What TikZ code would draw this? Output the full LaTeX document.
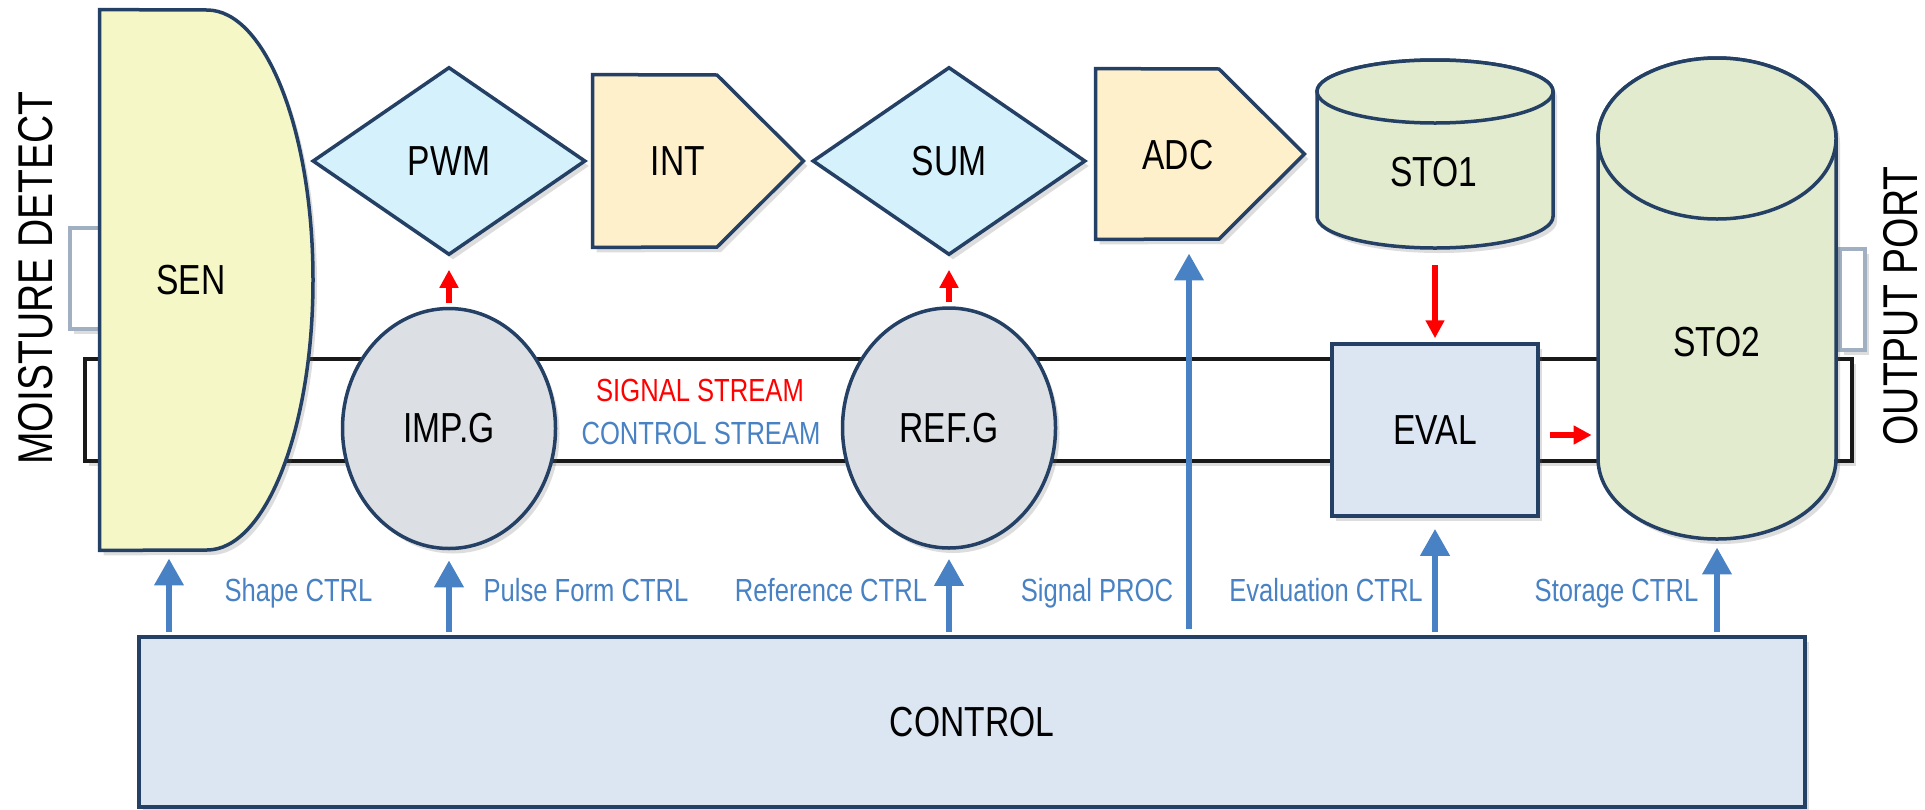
\documentclass[tikz,border=0pt]{standalone}
\usepackage{fontspec}
\setmainfont{Liberation Sans}[FakeStretch=0.8]
\usetikzlibrary{shapes.geometric,arrows.meta,shadows}

\definecolor{edge}{RGB}{36,64,100}
\definecolor{senfill}{RGB}{245,247,199}
\definecolor{dfill}{RGB}{213,241,252}
\definecolor{pfill}{RGB}{255,240,204}
\definecolor{cylfill}{RGB}{226,235,205}
\definecolor{ellfill}{RGB}{220,224,229}
\definecolor{boxfill}{RGB}{219,230,242}
\definecolor{ctrlblue}{RGB}{72,130,196}
\definecolor{portedge}{RGB}{160,176,194}

\newcommand\lblbig{\fontsize{21pt}{25pt}\selectfont}
\newcommand\lblsmall{\fontsize{16pt}{19pt}\selectfont}
\newcommand\lblside{\fontsize{24.4pt}{28pt}\selectfont}

\begin{document}
\begin{tikzpicture}[x=0.5pt,y=-0.5pt,
  outline/.style={draw=edge, line width=1.75pt},
  shadowed/.style={drop shadow={shadow xshift=2pt, shadow yshift=-2.5pt, opacity=0.22, fill=black!60}},
  frame/.style={rectangle, draw=none, inner sep=0pt},
  nodetext/.style={font=\lblbig, text=black, inner sep=0pt},
  ctrlarrow/.style={draw=ctrlblue, line width=3.4pt, -{Triangle[length=13.5pt,width=14pt]}},
  sigarrow/.style={draw=red, line width=2.6pt, -{Triangle[length=9pt,width=9pt]}},
  ctrllabel/.style={font=\lblsmall, text=ctrlblue, anchor=base, inner sep=0pt},
  port/.style={rectangle, draw=portedge, line width=1.6pt, fill=white, inner sep=0pt}
]
% canvas
\fill[white] (0,0) rectangle (1925,809);
\useasboundingbox (0,0) rectangle (1925,809);

% stream band
\node[rectangle, draw=black!90, line width=1.6pt, fill=white, inner sep=0pt,
      minimum width=883.5pt, minimum height=51pt, shadowed] (band) at (968.5,410) {};
\node[font=\lblsmall, text=red] (sigstream) at (700,390) {SIGNAL STREAM};
\node[font=\lblsmall, text=ctrlblue] (ctlstream) at (701,433) {CONTROL STREAM};

% side ports
\node[port, shadowed, minimum width=15pt, minimum height=50.5pt] (inport) at (85,278.5) {};
\node[port, shadowed, minimum width=12.5pt, minimum height=50.5pt] (outportbox) at (1852.5,299.5) {};

% sensor
\node[frame, minimum width=106.5pt, minimum height=270pt] (sen) at (206.5,280) {};
\path[outline, fill=senfill, shadowed] (sen.north west) -- (207,10)
  .. controls (265.5,10) and (313,131) .. (313,280)
  .. controls (313,429) and (265.5,550) .. (207,550) -- (sen.south west) -- cycle;
\node[nodetext] (sentext) at (191,280) {SEN};

% diamonds
\node[diamond, outline, fill=dfill, shadowed, inner sep=0pt,
      minimum width=136.5pt, minimum height=94pt, font=\lblbig] (pwm) at (449,161) {PWM};
\node[diamond, outline, fill=dfill, shadowed, inner sep=0pt,
      minimum width=136.5pt, minimum height=94pt, font=\lblbig] (sum) at (949,161) {SUM};

% integrator
\node[frame, minimum width=105pt, minimum height=86pt] (int) at (698,161) {};
\path[outline, fill=pfill, shadowed] (int.north west) -- (717,75) -- (int.east)
  -- (717,247) -- (int.south west) -- cycle;
\node[nodetext] (inttext) at (678,161) {INT};

% converter
\node[frame, minimum width=104pt, minimum height=85pt] (adc) at (1200,154) {};
\path[outline, fill=pfill, shadowed] (adc.north west) -- (1219,69) -- (adc.east)
  -- (1219,239) -- (adc.south west) -- cycle;
\node[nodetext] (adctext) at (1178,155) {ADC};

% storage 1
\node[frame, minimum width=118pt, minimum height=94pt] (sto1) at (1435,154) {};
\path[outline, fill=cylfill, shadowed] (1317,91.5) -- (1317,216.5)
  arc[start angle=180, end angle=360, x radius=59pt, y radius=15.75pt]
  -- (1553,91.5)
  arc[start angle=0, end angle=180, x radius=59pt, y radius=15.75pt] -- cycle;
\path[outline, fill=cylfill] (1435,91.5) ellipse[x radius=59pt, y radius=15.75pt];
\node[nodetext] (sto1text) at (1434,172) {STO1};

% storage 2
\node[frame, minimum width=119pt, minimum height=240.5pt] (sto2) at (1717,298.5) {};
\path[outline, fill=cylfill, shadowed] (1598,138.5) -- (1598,458.5)
  arc[start angle=180, end angle=360, x radius=59.5pt, y radius=40.25pt]
  -- (1836,138.5)
  arc[start angle=0, end angle=180, x radius=59.5pt, y radius=40.25pt] -- cycle;
\path[outline, fill=cylfill] (1717,138.5) ellipse[x radius=59.5pt, y radius=40.25pt];
\node[nodetext] (sto2text) at (1717,342) {STO2};

% generators
\node[ellipse, outline, fill=ellfill, shadowed, inner sep=0pt,
      minimum width=106.5pt, minimum height=120pt, font=\lblbig] (imp) at (449,428.5) {IMP.G};
\node[ellipse, outline, fill=ellfill, shadowed, inner sep=0pt,
      minimum width=106.5pt, minimum height=120pt, font=\lblbig] (ref) at (949,428) {REF.G};

% evaluation
\node[rectangle, outline, fill=boxfill, shadowed, inner sep=0pt,
      minimum width=103pt, minimum height=86pt, font=\lblbig] (eval) at (1435,430) {EVAL};

% control unit
\node[rectangle, outline, fill=boxfill, shadowed, inner sep=0pt,
      minimum width=833pt, minimum height=85pt, font=\lblbig] (ctrl) at (972,722) {CONTROL};

% side captions
\node[font=\lblside, rotate=90] (moist) at (35.5,278) {MOISTURE DETECT};
\node[font=\lblside, rotate=90] (outport) at (1901,306) {OUTPUT PORT};

% signal path
\draw[sigarrow, shorten <=2pt, shorten >=6.5pt] (imp.north) -- (pwm.south);
\draw[sigarrow, shorten <=2pt, shorten >=6.5pt] (ref.north) -- (sum.south);
\draw[sigarrow, shorten <=8.5pt, shorten >=2pt] (sto1.south) -- (eval.north);
\coordinate (evalout) at ([yshift=-2.5pt]eval.east);
\draw[sigarrow, shorten <=5pt, shorten >=3pt] (evalout) -- (evalout -| sto2.west);

% control lines
\coordinate (senin) at ([xshift=-18.75pt]sen.south);
\coordinate (adcin) at ([xshift=-5.5pt]adc.south);
\draw[ctrlarrow, shorten <=1.5pt, shorten >=4pt] (senin |- ctrl.north) -- (senin);
\draw[ctrlarrow, shorten <=1.5pt, shorten >=5pt] (imp.south |- ctrl.north) -- (imp.south);
\draw[ctrlarrow, shorten <=1.5pt, shorten >=4.5pt] (ref.south |- ctrl.north) -- (ref.south);
\draw[ctrlarrow, shorten <=3pt, shorten >=7pt] (adcin |- ctrl.north) -- (adcin);
\draw[ctrlarrow, shorten <=1.5pt, shorten >=5.5pt] (eval.south |- ctrl.north) -- (eval.south);
\draw[ctrlarrow, shorten <=1.5pt, shorten >=4pt] (sto2.south |- ctrl.north) -- (sto2.south);

% control labels
\node[ctrllabel] (lshape) at (298.5,601) {Shape CTRL};
\node[ctrllabel] (lpulse) at (586,601) {Pulse Form CTRL};
\node[ctrllabel] (lref) at (831,601) {Reference CTRL};
\node[ctrllabel] (lsig) at (1097,601) {Signal PROC};
\node[ctrllabel] (leval) at (1326,601) {Evaluation CTRL};
\node[ctrllabel] (lsto) at (1616.5,601) {Storage CTRL};
\end{tikzpicture}
\end{document}
